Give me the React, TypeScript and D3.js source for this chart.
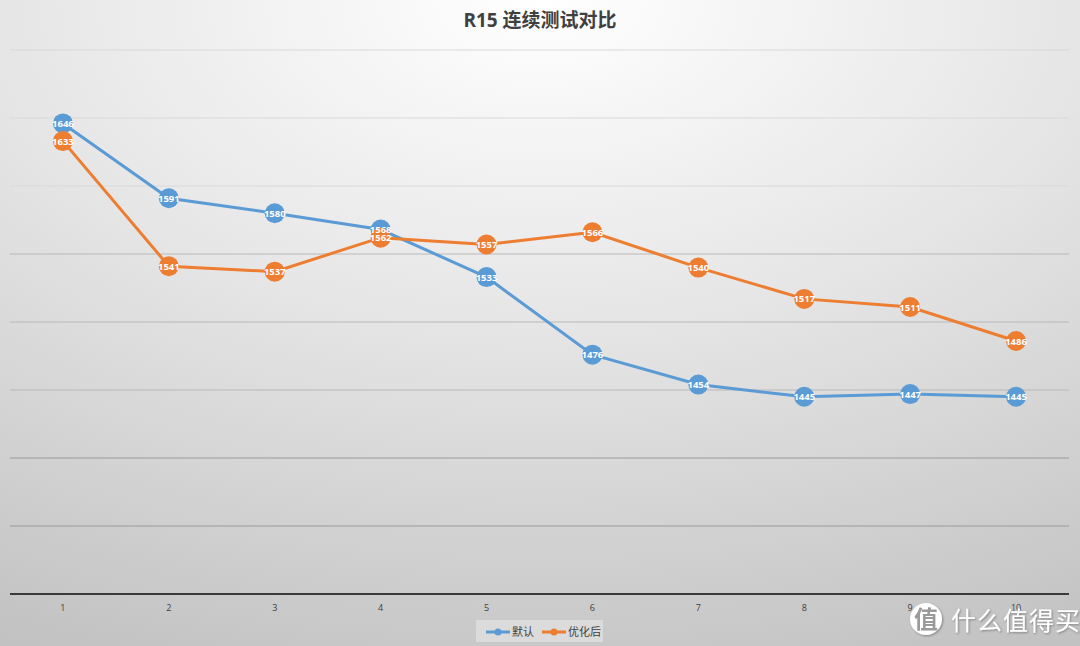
import React from "react";
import * as d3 from "d3";

const categories = ["1", "2", "3", "4", "5", "6", "7", "8", "9", "10"];
const seriesNames = ["默认", "优化后"];
const defaultValues = [1646, 1591, 1580, 1568, 1533, 1476, 1454, 1445, 1447, 1445];
const optimizedValues = [1633, 1541, 1537, 1562, 1557, 1566, 1540, 1517, 1511, 1486];
const yTicks = [1300, 1350, 1400, 1450, 1500, 1550, 1600, 1650, 1700];
const colors = ["#5b9bd5", "#ed7d31"];
const title = "R15 连续测试对比";

const W = 1080;
const H = 646;

export default function App() {
  const x = d3.scaleBand().domain(categories).range([10, 1069]);
  const y = d3.scaleLinear().domain([1300, 1700]).range([594, 50]);
  const cx = (c: string) => (x(c) as number) + x.bandwidth() / 2;
  const line = d3
    .line<number>()
    .x((_, i) => cx(categories[i]))
    .y((d) => y(d));
  const series = [defaultValues, optimizedValues];
  const font = "'Open Sans', 'Noto Sans CJK SC', sans-serif";

  return (
    <svg
      width={W}
      height={H}
      style={{ position: "absolute", left: 0, top: 0, display: "block" }}
      fontFamily={font}
    >
      <defs>
        <radialGradient id="bg" cx="50%" cy="0%" r="110%" fx="50%" fy="0%">
          <stop offset="0%" stopColor="#ffffff" />
          <stop offset="45%" stopColor="#e6e6e6" />
          <stop offset="100%" stopColor="#c2c2c2" />
        </radialGradient>
        <filter id="sh" x="-10%" y="-10%" width="130%" height="130%">
          <feDropShadow dx="1" dy="1" stdDeviation="1" floodColor="#000" floodOpacity="0.35" />
        </filter>
      </defs>
      <rect x={0} y={0} width={W} height={H} fill="url(#bg)" />
      <text
        x={W / 2}
        y={27}
        textAnchor="middle"
        fontSize={19}
        fontWeight="bold"
        fill="#404040"
      >
        {title}
      </text>
      {yTicks.slice(1).map((t) => (
        <line
          key={t}
          x1={10}
          x2={1069}
          y1={y(t)}
          y2={y(t)}
          stroke={t >= 1600 ? "#d9d9d9" : t >= 1450 ? "#b8b8b8" : "#9a9a9a"}
          strokeWidth={1}
        />
      ))}
      <line x1={10} x2={1069} y1={y(1300)} y2={y(1300)} stroke="#3a3a3a" strokeWidth={2} />
      {categories.map((c) => (
        <text key={c} x={cx(c)} y={611} textAnchor="middle" fontSize={9} fill="#404040">
          {c}
        </text>
      ))}
      {series.map((vals, si) => (
        <path key={si} d={line(vals) || ""} fill="none" stroke={colors[si]} strokeWidth={3} />
      ))}
      {series.map((vals, si) => (
        <g key={"m" + si}>
          {vals.map((v, i) => (
            <circle key={i} cx={cx(categories[i])} cy={y(v)} r={10} fill={colors[si]} />
          ))}
        </g>
      ))}
      {series.map((vals, si) => (
        <g key={"l" + si}>
          {vals.map((v, i) => (
            <text
              key={i}
              x={cx(categories[i])}
              y={y(v) + 3.5}
              textAnchor="middle"
              fontSize={9.5}
              fontWeight="bold"
              fill="#ffffff"
            >
              {v}
            </text>
          ))}
        </g>
      ))}
      <g>
        <rect x={476} y={620} width={127} height={22} fill="#e2e2e2" opacity={0.7} />
        {seriesNames.map((n, i) => {
          const lx = i === 0 ? 486 : 542;
          return (
            <g key={n}>
              <line x1={lx} x2={lx + 24} y1={632} y2={632} stroke={colors[i]} strokeWidth={3} />
              <circle cx={lx + 12} cy={632} r={3.5} fill={colors[i]} />
              <text x={lx + 26} y={636} fontSize={11} fill="#404040">
                {n}
              </text>
            </g>
          );
        })}
      </g>
      <g filter="url(#sh)" fill="#ffffff">
        <circle cx={926} cy={619} r={16} fill="#ffffff" />
        <text x={926} y={628} textAnchor="middle" fontSize={24} fontWeight="bold" fill="#9a9a9a">
          值
        </text>
        <text x={951} y={630} fontSize={25} fill="#ffffff" letterSpacing={1}>
          什么值得买
        </text>
      </g>
    </svg>
  );
}
